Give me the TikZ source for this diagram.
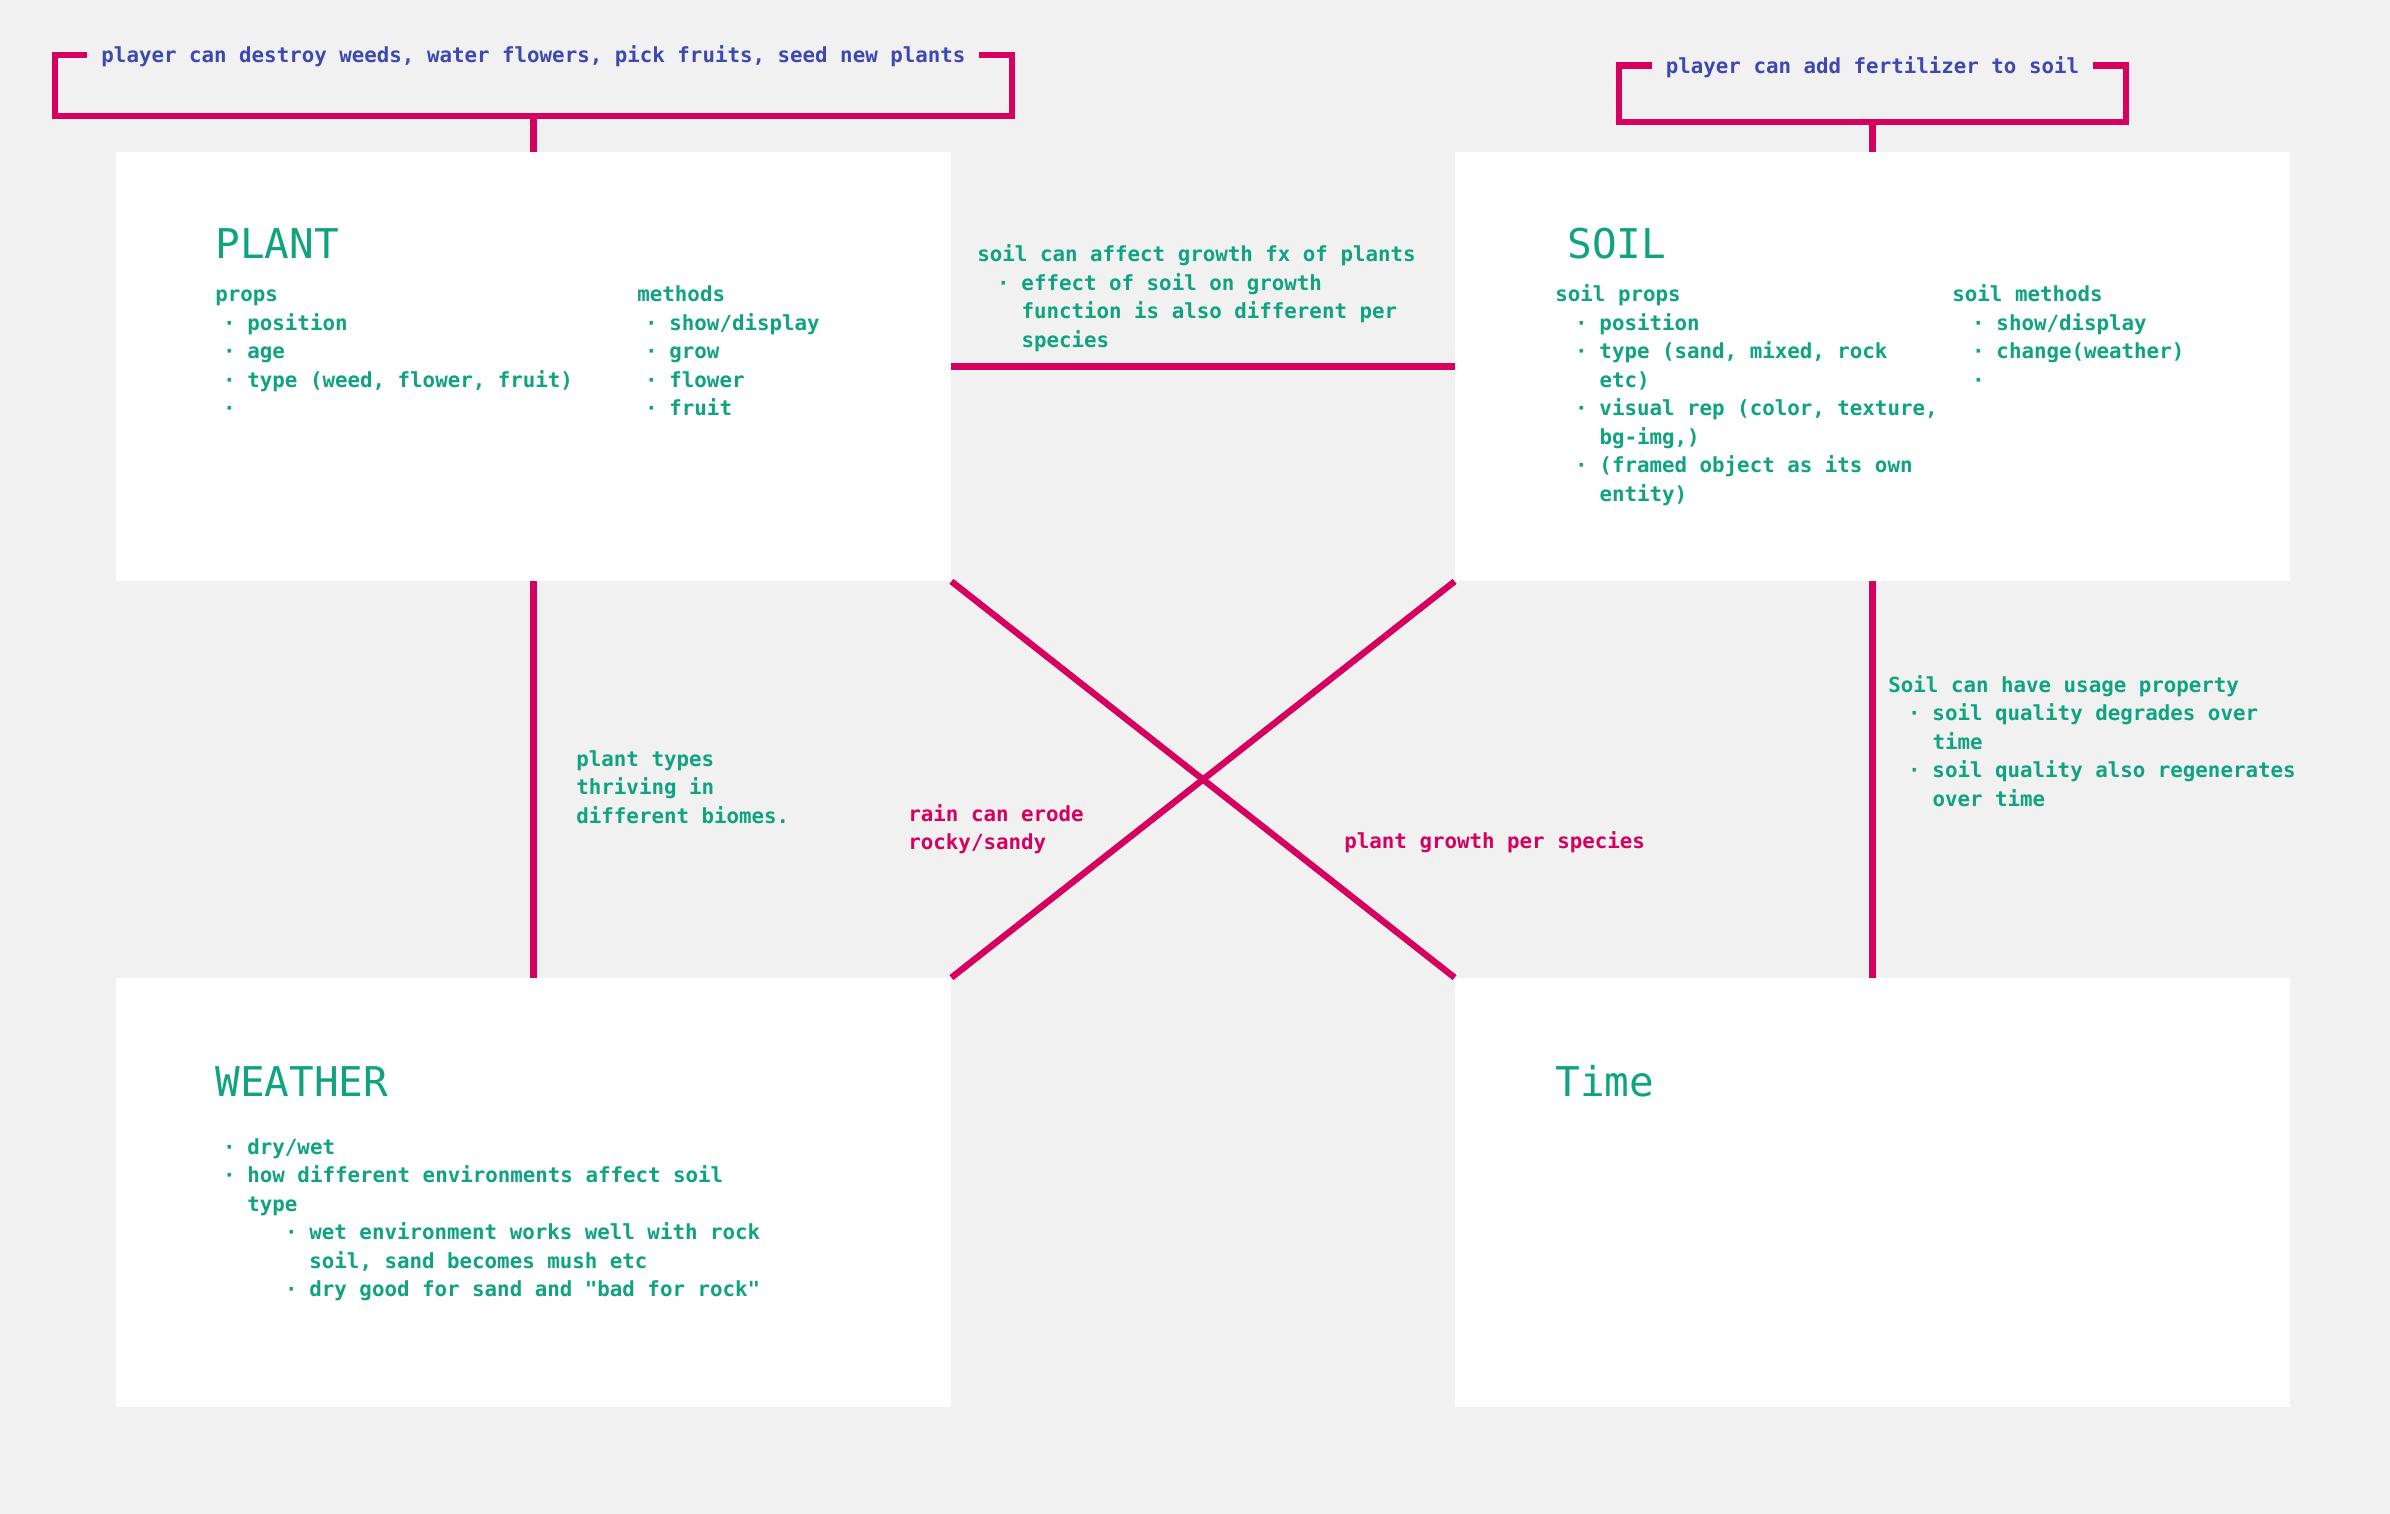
\documentclass[tikz,border=0pt]{standalone}
\usepackage{fontspec}
\newfontfamily\mono{DejaVu Sans Mono}
\definecolor{bgc}{RGB}{241,241,241}
\definecolor{gtext}{RGB}{16,163,127}
\definecolor{mag}{RGB}{214,0,94}
\definecolor{btext}{RGB}{62,72,179}
\newcommand\bodyf{\mono\bfseries\fontsize{10.4pt}{14.25pt}\selectfont}
\newcommand\headf{\mono\fontsize{20.5pt}{24pt}\selectfont}
\newcommand\bul{\makebox[1.54em][l]{\hspace*{0.37em}·}}
\newcommand\bulb{\makebox[2.12em][l]{\hspace*{0.95em}·}}
\newcommand\bulc{\makebox[4.52em][l]{\hspace*{3.35em}·}}
\newcommand\cnta{\hspace*{1.54em}}
\newcommand\cntb{\hspace*{2.12em}}
\newcommand\cntc{\hspace*{4.52em}}
\newcommand\lines[1]{\begin{tabular}[t]{@{}l@{}}#1\end{tabular}}
\begin{document}
\begin{tikzpicture}[x=0.5pt,y=-0.5pt,
  box/.style={fill=white,draw=none,minimum width=417.5pt,minimum height=214.5pt,inner sep=0pt},
  txt/.style={anchor=base west,inner sep=0pt,font=\bodyf,text=gtext},
  mtxt/.style={txt,text=mag},
  head/.style={anchor=base west,inner sep=0pt,font=\headf,text=gtext},
  toplabel/.style={anchor=base,inner sep=0pt,font=\bodyf,text=btext},
  link/.style={draw=mag,line width=3.2pt}]
\fill[bgc] (0,0) rectangle (2390,1514);
\useasboundingbox (0,0) rectangle (2390,1514);

% boxes
\node[box] (plant) at (533.5,366.5) {};
\node[box] (soil) at (1872.5,366.5) {};
\node[box] (weather) at (533.5,1192.5) {};
\node[box] (time) at (1872.5,1192.5) {};

% connectors
\draw[link] (plant) -- (soil);
\draw[link] (plant.south) -- (weather.north);
\draw[link] (soil.south) -- (time.north);
\draw[link] (plant.south east) -- (time.north west);
\draw[link] (soil.south west) -- (weather.north east);

% top brackets
\node[toplabel] (act1) at (533.5,63) {player can destroy weeds, water flowers, pick fruits, seed new plants};
\draw[link] (87,55) -- (55,55) -- (55,116) -- (1012,116) -- (1012,55) -- (979,55);
\coordinate (b1) at (533.5,116);
\draw[link] (b1) -- (plant.north);

\node[toplabel] (act2) at (1872.5,73.5) {player can add fertilizer to soil};
\draw[link] (1652,65.5) -- (1619,65.5) -- (1619,122) -- (2126,122) -- (2126,65.5) -- (2093,65.5);
\coordinate (b2) at (1872.5,122);
\draw[link] (b2) -- (soil.north);

% PLANT
\node[head] (planth) at (215,259) {PLANT};
\node[txt] (plantp) at (215,302) {\lines{props\\ \bul position\\ \bul age\\ \bul type (weed, flower, fruit)\\ \bul}};
\node[txt] (plantm) at (637,302) {\lines{methods\\ \bul show/display\\ \bul grow\\ \bul flower\\ \bul fruit}};

% SOIL
\node[head] (soilh) at (1567,259) {SOIL};
\node[txt] (soilp) at (1555,302) {\lines{soil props\\ \bulb position\\ \bulb type (sand, mixed, rock\\ \cntb etc)\\ \bulb visual rep (color, texture,\\ \cntb bg-img,)\\ \bulb (framed object as its own\\ \cntb entity)}};
\node[txt] (soilm) at (1952,302) {\lines{soil methods\\ \bulb show/display\\ \bulb change(weather)\\ \bulb}};

% WEATHER
\node[head] (weath) at (215,1096) {WEATHER};
\node[txt] (weatb) at (215,1154) {\lines{\bul dry/wet\\ \bul how different environments affect soil\\ \cnta type\\ \bulc wet environment works well with rock\\ \cntc soil, sand becomes mush etc\\ \bulc dry good for sand and "bad for rock"}};

% Time
\node[head] (timeh) at (1555,1096) {Time};

% connector labels
\node[txt] (l1) at (977,262) {\lines{soil can affect growth fx of plants\\ \bulb effect of soil on growth\\ \cntb function is also different per\\ \cntb species}};
\node[txt] (l2) at (576,766) {\lines{plant types\\ thriving in\\ different biomes.}};
\node[mtxt] (l3) at (908,821) {\lines{rain can erode\\ rocky/sandy}};
\node[mtxt] (l4) at (1344,848) {plant growth per species};
\node[txt] (l5) at (1888,692) {\lines{Soil can have usage property\\ \bulb soil quality degrades over\\ \cntb time\\ \bulb soil quality also regenerates\\ \cntb over time}};
\end{tikzpicture}
\end{document}
